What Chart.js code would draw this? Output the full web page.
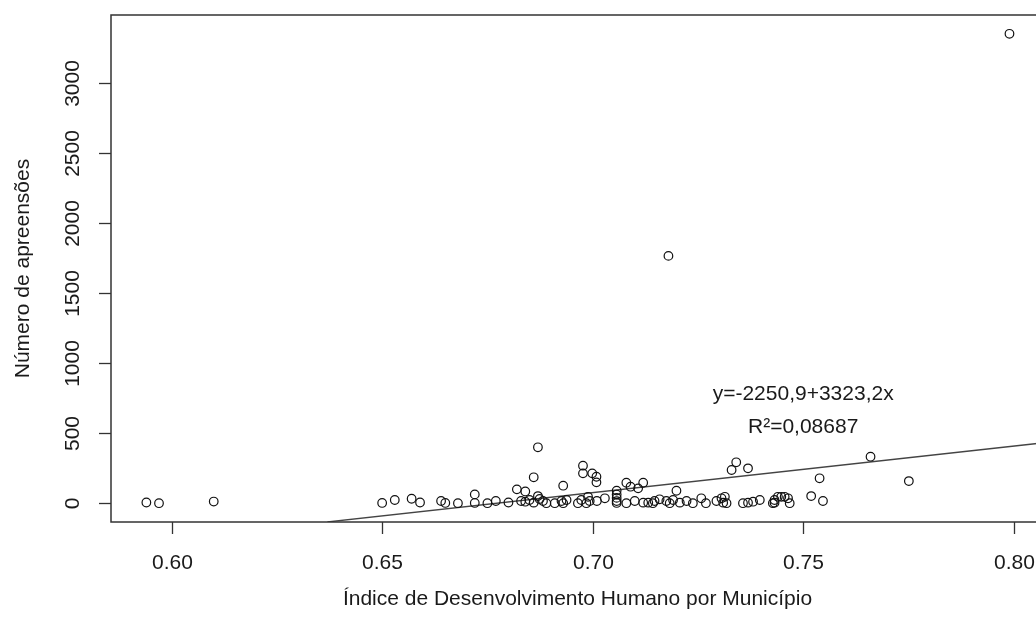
<!DOCTYPE html>
<html>
<head>
<meta charset="utf-8">
<script src="https://cdn.jsdelivr.net/npm/chart.js@4.4.1/dist/chart.umd.min.js"></script>
<style>
  html, body { margin: 0; padding: 0; background: #fff; overflow: hidden; }
  #wrap { width: 1060px; height: 628px; position: relative; }
</style>
</head>
<body>
<div id="wrap"><canvas id="grafico"></canvas></div>
<script>
// IDHM de cada município e número de apreensões
const idhm = [
  0.594, 0.597, 0.610, 0.650, 0.653, 0.657, 0.659, 0.664, 0.665, 0.668,
  0.672, 0.672, 0.675, 0.677, 0.680, 0.682, 0.684, 0.683, 0.684, 0.685,
  0.686, 0.686, 0.687, 0.687, 0.6874, 0.6882, 0.689, 0.691, 0.693, 0.693,
  0.6926, 0.6938, 0.6977, 0.6977, 0.6999, 0.7009, 0.7009, 0.6965, 0.6973, 0.6985,
  0.6989, 0.6993, 0.701, 0.7029, 0.7057, 0.7057, 0.7057, 0.7057, 0.7057, 0.708,
  0.709, 0.7108, 0.712, 0.708, 0.710, 0.712, 0.7132, 0.7143, 0.7147, 0.7159,
  0.7175, 0.7183, 0.7191, 0.7199, 0.7207, 0.7223, 0.7238, 0.7258, 0.7269, 0.7294,
  0.718, 0.7306, 0.7314, 0.7318, 0.731, 0.733, 0.7341, 0.7369, 0.7357, 0.7369,
  0.7381, 0.7397, 0.7428, 0.7432, 0.744, 0.7448, 0.7456, 0.7464, 0.7468, 0.7432,
  0.7519, 0.7547, 0.7539, 0.766, 0.7751, 0.799
];
const apreensoes = [
  5, 0, 12, 2, 23, 32, 5, 16, 2, 0,
  63, 2, 0, 16, 5, 99, 84, 16, 11, 23,
  4, 185, 399, 51, 30, 16, 0, 0, 125, 0,
  16, 23, 268, 213, 213, 189, 149, 0, 23, 0,
  46, 16, 16, 35, 90, 62, 38, 15, 2, 146,
  118, 106, 146, 0, 16, 4, 4, 0, 16, 28,
  16, 0, 23, 89, 4, 16, 0, 35, 0, 16,
  1765, 35, 46, 0, 4, 237, 292, 249, 0, 4,
  11, 23, 0, 23, 46, 46, 46, 35, 0, 4,
  51, 16, 178, 332, 158, 3350
];

const xTicks = [0.60, 0.65, 0.70, 0.75, 0.80];
const yTicks = [0, 500, 1000, 1500, 2000, 2500, 3000];
const xRange = [0.5856, 0.8072];
const yRange = [-134, 3484];

// reta ajustada y = a + b x
const intercepto = -2250.9;
const inclinacao = 3323.2;
const textoEquacao = 'y=-2250,9+3323,2x';
const textoR2 = 'R\u00b2=0,08687';

const fonte = '"Liberation Sans", Arial, Helvetica, sans-serif';
const corTexto = '#1a1a1a';

const pontos = idhm.map((x, i) => ({ x: x, y: apreensoes[i] }));

// a reta começa onde toca o limite inferior do eixo y
const xIni = (yRange[0] - intercepto) / inclinacao;
const reta = [xIni, xRange[1]].map(x => ({ x: x, y: intercepto + inclinacao * x }));

// eixos, caixa e textos no estilo do R
const eixosR = {
  id: 'eixosR',
  afterDraw(chart) {
    const ctx = chart.ctx;
    const area = chart.chartArea;
    const sx = chart.scales.x;
    const sy = chart.scales.y;
    ctx.save();
    ctx.strokeStyle = '#333';
    ctx.lineWidth = 1.5;
    ctx.strokeRect(area.left, area.top, area.right - area.left, area.bottom - area.top);

    ctx.fillStyle = corTexto;
    ctx.font = '21px ' + fonte;
    ctx.lineWidth = 1.3;

    // eixo x
    ctx.textAlign = 'center';
    ctx.textBaseline = 'middle';
    xTicks.forEach(v => {
      const px = Math.round(sx.getPixelForValue(v)) + 0.5;
      ctx.beginPath();
      ctx.moveTo(px, area.bottom);
      ctx.lineTo(px, area.bottom + 12);
      ctx.stroke();
      ctx.fillText(v.toFixed(2), px, 563);
    });

    // eixo y (rótulos verticais)
    yTicks.forEach(v => {
      const py = Math.round(sy.getPixelForValue(v)) + 0.5;
      ctx.beginPath();
      ctx.moveTo(area.left, py);
      ctx.lineTo(area.left - 12, py);
      ctx.stroke();
      ctx.save();
      ctx.translate(73, py);
      ctx.rotate(-Math.PI / 2);
      ctx.fillText(String(v), 0, 0);
      ctx.restore();
    });

    // títulos dos eixos
    ctx.fillText('\u00cdndice de Desenvolvimento Humano por Munic\u00edpio',
      (area.left + area.right) / 2, 599);
    ctx.save();
    ctx.translate(23, (area.top + area.bottom) / 2);
    ctx.rotate(-Math.PI / 2);
    ctx.fillText('N\u00famero de apreens\u00f5es', 0, 0);
    ctx.restore();

    // equação da reta
    ctx.fillText(textoEquacao, sx.getPixelForValue(0.75), sy.getPixelForValue(780));
    ctx.fillText(textoR2, sx.getPixelForValue(0.75), sy.getPixelForValue(540));
    ctx.restore();
  }
};

new Chart(document.getElementById('grafico').getContext('2d'), {
  type: 'scatter',
  data: {
    datasets: [
      {
        label: 'Municípios',
        data: pontos,
        pointStyle: 'circle',
        pointRadius: 4.3,
        pointBorderWidth: 1.2,
        pointBorderColor: '#111',
        pointBackgroundColor: 'rgba(0,0,0,0)',
        pointHoverRadius: 4.3
      },
      {
        type: 'line',
        label: 'Reta ajustada',
        data: reta,
        borderColor: '#444',
        borderWidth: 1.3,
        pointRadius: 0,
        fill: false,
        clip: 0
      }
    ]
  },
  options: {
    responsive: true,
    maintainAspectRatio: false,
    animation: false,
    layout: { padding: { left: 111, top: 15, right: 16, bottom: 106 } },
    plugins: {
      legend: { display: false },
      tooltip: { enabled: false }
    },
    scales: {
      x: { type: 'linear', min: xRange[0], max: xRange[1], display: false },
      y: { type: 'linear', min: yRange[0], max: yRange[1], display: false }
    }
  },
  plugins: [eixosR]
});
</script>
</body>
</html>
